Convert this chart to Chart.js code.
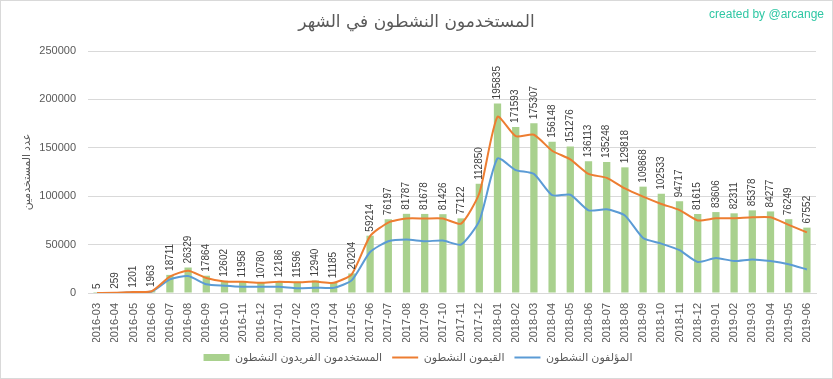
<!DOCTYPE html>
<html>
<head>
<meta charset="utf-8">
<script src="https://cdn.jsdelivr.net/npm/chart.js@4.4.1/dist/chart.umd.min.js"></script>
<style>
  body { margin: 0; background: #fff; }
  #wrap { position: relative; width: 833px; height: 379px; }
  #frame { position: absolute; left: 0; top: 0; width: 831px; height: 377px; border: 1px solid #d9d9d9; pointer-events: none; }
  #credit { position: absolute; right: 9px; top: 7px; font: 12px 'Liberation Sans', 'DejaVu Sans', sans-serif; color: #2fc7a4; }
  #title { position: absolute; left: 0; width: 833px; top: 11px; text-align: center; font: 17px 'DejaVu Sans', sans-serif; color: #595959; }
</style>
</head>
<body>
<div id="wrap">
  <canvas id="myChart" width="833" height="379"></canvas>
  <div id="title">المستخدمون النشطون في الشهر</div>
  <div id="credit">created by @arcange</div>
  <div id="frame"></div>
</div>
<script>
// Mois (catégories)
var months = ["2016-03", "2016-04", "2016-05", "2016-06", "2016-07", "2016-08", "2016-09", "2016-10", "2016-11", "2016-12",
  "2017-01", "2017-02", "2017-03", "2017-04", "2017-05", "2017-06", "2017-07", "2017-08", "2017-09", "2017-10", "2017-11", "2017-12",
  "2018-01", "2018-02", "2018-03", "2018-04", "2018-05", "2018-06", "2018-07", "2018-08", "2018-09", "2018-10", "2018-11", "2018-12",
  "2019-01", "2019-02", "2019-03", "2019-04", "2019-05", "2019-06"];

// Utilisateurs uniques actifs (barres)
var uniqueUsers = [5, 259, 1201, 1963, 18711, 26329, 17864, 12602, 11958, 10780,
  12186, 11596, 12940, 11185, 20204, 59214, 76197, 81787, 81678, 81426, 77122, 112850,
  195835, 171593, 175307, 156148, 151276, 136113, 135248, 129818, 109868, 102533, 94717, 81615,
  83606, 82311, 85378, 84277, 76249, 67552];

// Curateurs actifs (ligne orange)
var curators = [0, 200, 1100, 1800, 17000, 23000, 15500, 12000, 11500, 10500,
  11500, 11000, 11800, 10500, 19600, 58800, 72800, 77000, 77000, 77000, 71700, 103000,
  182000, 162000, 163500, 147000, 138000, 123000, 119000, 108000, 99500, 92000, 85700, 75000,
  77200, 77200, 78200, 78200, 70400, 62600];

// Auteurs actifs (ligne bleue)
var authors = [0, 100, 800, 1500, 14000, 17500, 9000, 7500, 6500, 6500,
  6500, 5000, 5500, 5300, 13300, 42300, 53500, 55300, 53500, 54200, 50000, 74500,
  139000, 127000, 123000, 101000, 101500, 85400, 86400, 80000, 56800, 51000, 44200, 32000,
  36100, 33000, 34700, 33000, 29700, 24300];

var yMax = 250000;
var yStep = 50000;

var fontFamily = "'Liberation Sans', 'DejaVu Sans', sans-serif";
var textColor = '#595959';

// Étiquettes verticales au-dessus des barres
var barLabels = {
  id: 'barLabels',
  afterDatasetsDraw: function(chart) {
    var meta = chart.getDatasetMeta(0);
    var ctx = chart.ctx;
    ctx.save();
    ctx.font = '10px ' + fontFamily;
    ctx.fillStyle = '#404040';
    ctx.textAlign = 'left';
    ctx.textBaseline = 'middle';
    meta.data.forEach(function(bar, i) {
      ctx.save();
      ctx.translate(bar.x, bar.y - 4);
      ctx.rotate(-Math.PI / 2);
      ctx.fillText(String(uniqueUsers[i]), 0, 0);
      ctx.restore();
    });
    ctx.restore();
  }
};

var ctx = document.getElementById('myChart').getContext('2d');
var myChart = new Chart(ctx, {
  type: 'bar',
  data: {
    labels: months,
    datasets: [{
      label: 'المستخدمون الفريدون النشطون',
      data: uniqueUsers,
      backgroundColor: '#a9d18e',
      borderWidth: 0,
      barPercentage: 0.4,
      categoryPercentage: 1,
      order: 3,
      pointStyle: 'rect'
    }, {
      type: 'line',
      label: 'القيمون النشطون',
      data: curators,
      borderColor: '#ed7d31',
      backgroundColor: '#ed7d31',
      borderWidth: 2,
      pointRadius: 0,
      tension: 0.2,
      fill: false,
      order: 1,
      pointStyle: 'line'
    }, {
      type: 'line',
      label: 'المؤلفون النشطون',
      data: authors,
      borderColor: '#5b9bd5',
      backgroundColor: '#5b9bd5',
      borderWidth: 2,
      pointRadius: 0,
      tension: 0.2,
      fill: false,
      order: 2,
      pointStyle: 'line'
    }]
  },
  options: {
    responsive: false,
    devicePixelRatio: 1,
    animation: false,
    layout: { padding: { left: 20, right: 17, top: 51, bottom: 6 } },
    plugins: {
      legend: {
        position: 'bottom',
        labels: {
          usePointStyle: true,
          pointStyleWidth: 26,
          boxHeight: 7,
          padding: 10,
          color: textColor,
          font: { family: fontFamily, size: 11 },
          sort: function(a, b) { return a.datasetIndex - b.datasetIndex; }
        }
      },
      tooltip: { enabled: false }
    },
    scales: {
      x: {
        grid: { display: false },
        border: { color: '#d9d9d9' },
        ticks: {
          color: textColor,
          font: { family: fontFamily, size: 11 },
          maxRotation: 90,
          minRotation: 90,
          autoSkip: false,
          padding: 2
        },
        afterFit: function(scale) { scale.height = 49; }
      },
      y: {
        min: 0,
        max: yMax,
        grid: { color: '#d9d9d9', drawTicks: false },
        border: { display: false },
        ticks: {
          stepSize: yStep,
          color: textColor,
          font: { family: fontFamily, size: 11 },
          padding: 12,
          callback: function(value) { return String(value); }
        },
        title: {
          display: true,
          text: 'عدد المستخدمين',
          color: textColor,
          font: { family: fontFamily, size: 11 },
          padding: { top: 0, bottom: 0 }
        },
        afterFit: function(scale) { scale.width = 68; }
      }
    }
  },
  plugins: [barLabels]
});
</script>
</body>
</html>
